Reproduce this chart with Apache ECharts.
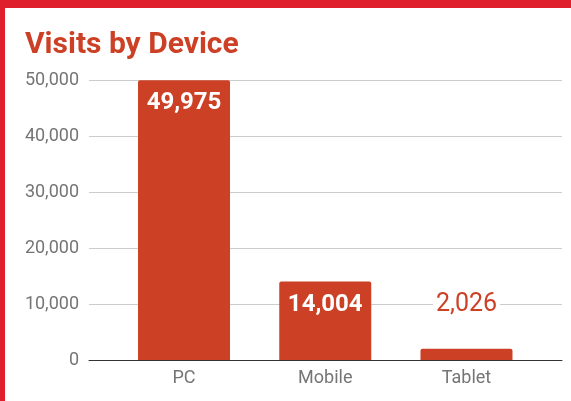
<!DOCTYPE html>
<html>
<head>
<meta charset="utf-8">
<script src="https://cdn.jsdelivr.net/npm/echarts@6/dist/echarts.min.js"></script>
<style>
html,body{margin:0;padding:0;background:#fff;overflow:hidden;}
#chart{position:absolute;left:0;top:0;width:571px;height:401px;}
#bt{position:absolute;left:0;top:0;width:571px;height:8px;background:#df1f2b;}
#bl{position:absolute;left:0;top:0;width:5px;height:401px;background:#df1f2b;}
</style>
</head>
<body>
<div id="chart"></div>
<div id="bt"></div>
<div id="bl"></div>
<script>
const titleText = 'Visits by Device';
const categories = ['PC', 'Mobile', 'Tablet'];
const visits = [49975, 14004, 2026];
const yMin = 0, yMax = 50000, yStep = 10000;

function fmt(v) {
  return String(v).replace(/\B(?=(\d{3})+(?!\d))/g, ',');
}
const red = '#cc4125';
const font = 'Roboto';

const chart = echarts.init(document.getElementById('chart'));
const data = visits.map((v, i) => {
  const d = { value: v };
  if (v < 8000) {
    d.label = {
      position: 'top', color: red, fontWeight: 'normal', fontSize: 25,
      backgroundColor: '#fff', padding: [0, 3], distance: 32
    };
  }
  return d;
});

chart.setOption({
  animation: false,
  title: {
    text: titleText, left: 20, top: 25,
    textStyle: { color: red, fontFamily: font, fontWeight: 'bold', fontSize: 30, lineHeight: 30 }
  },
  grid: [
    { left: 89, right: 9, top: 80, bottom: 41 },
    { left: 113.4, right: 33.9, top: 80, bottom: 41 }
  ],
  xAxis: [
    { gridIndex: 0, type: 'category', data: [''],
      axisLine: { lineStyle: { color: '#333', width: 1 } },
      axisTick: { show: false }, axisLabel: { show: false } },
    { gridIndex: 1, type: 'category', data: categories,
      axisLine: { show: false }, axisTick: { show: false },
      axisLabel: { color: '#757575', fontFamily: font, fontSize: 18, margin: 9 } }
  ],
  yAxis: [
    { gridIndex: 0, type: 'value', min: yMin, max: yMax, interval: yStep,
      axisLine: { show: false }, axisTick: { show: false },
      axisLabel: { color: '#757575', fontFamily: font, fontSize: 18, margin: 10, formatter: fmt },
      splitLine: { lineStyle: { color: '#cccccc', width: 1 } } },
    { gridIndex: 1, type: 'value', min: yMin, max: yMax, interval: yStep, show: false,
      splitLine: { show: false } }
  ],
  series: [{
    type: 'bar', xAxisIndex: 1, yAxisIndex: 1, data: data, barWidth: 92,
    itemStyle: { color: red, borderRadius: [2, 2, 0, 0] },
    label: {
      show: true, position: 'insideTop', distance: 11, color: '#fff',
      fontFamily: font, fontSize: 24, fontWeight: 'bold', lineHeight: 24,
      formatter: p => fmt(p.value)
    }
  }]
});
</script>
</body>
</html>
